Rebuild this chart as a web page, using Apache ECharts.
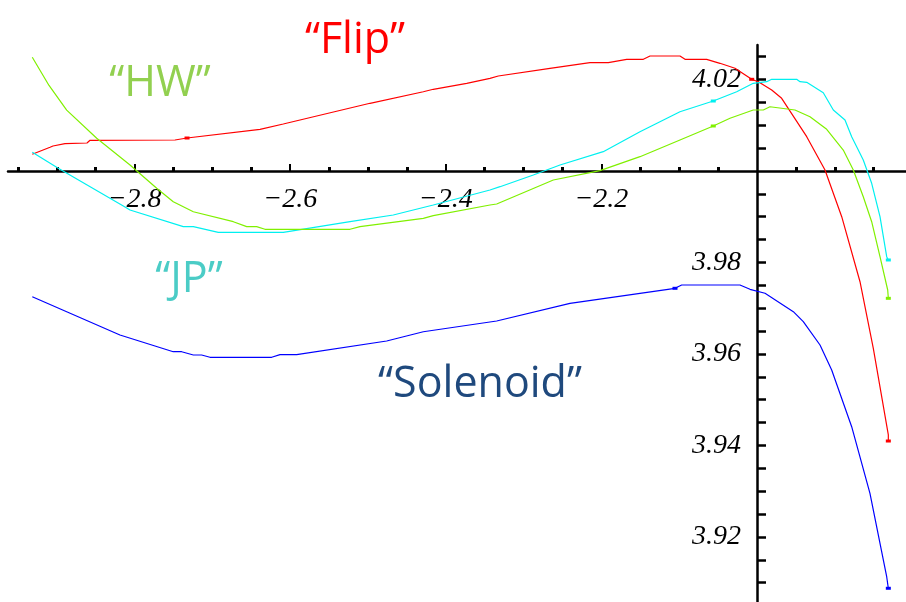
<!DOCTYPE html>
<html>
<head>
<meta charset="utf-8">
<script src="https://cdn.jsdelivr.net/npm/echarts@6/dist/echarts.min.js"></script>
<style>
html,body{margin:0;padding:0;background:#fff;}
#chart{width:906px;height:602px;}
</style>
</head>
<body>
<div id="chart"></div>
<script>
// ---- data ----
var flip = [
  [-2.9315, 4.00365], [-2.9087, 4.00518], [-2.9049, 4.00546], [-2.8895, 4.00597],
  [-2.8612, 4.00612], [-2.8573, 4.00671], [-2.7481, 4.00678], [-2.7326, 4.00721],
  [-2.6388, 4.00911], [-2.6089, 4.01027], [-2.5874, 4.01115], [-2.4974, 4.01480],
  [-2.4289, 4.01733], [-2.4161, 4.01786], [-2.3731, 4.01917], [-2.3432, 4.02026],
  [-2.3325, 4.02077], [-2.2661, 4.02245], [-2.2147, 4.02367], [-2.1911, 4.02367],
  [-2.1675, 4.02441], [-2.1461, 4.02441], [-2.1375, 4.02514], [-2.0990, 4.02514],
  [-2.0925, 4.02441], [-2.0647, 4.02441], [-2.0476, 4.02354], [-2.0283, 4.02245],
  [-2.0068, 4.02004], [-1.9983, 4.01952], [-1.9811, 4.01770], [-1.9683, 4.01589],
  [-1.9361, 4.00750], [-1.9126, 4.00022], [-1.8911, 3.99001], [-1.8676, 3.97580],
  [-1.8505, 3.96125], [-1.8312, 3.94230], [-1.8312, 3.94098]
];
var flipMarks = [7, 28, 38];

var jp = [
  [-2.9315, 4.00409], [-2.8981, 4.00059], [-2.8145, 3.99235], [-2.8059, 3.99148],
  [-2.7374, 3.98783], [-2.7245, 3.98783], [-2.6924, 3.98660], [-2.6089, 3.98660],
  [-2.5231, 3.98892], [-2.4675, 3.99038], [-2.4161, 3.99257], [-2.3432, 3.99585],
  [-2.3303, 3.99657], [-2.2875, 3.99913], [-2.2532, 4.00131], [-2.1976, 4.00422],
  [-2.1504, 4.00859], [-2.0990, 4.01296], [-2.0562, 4.01530], [-2.0261, 4.01733],
  [-2.0048, 4.01917], [-1.9875, 4.01952], [-1.9811, 4.02004], [-1.9490, 4.02004],
  [-1.9447, 4.01952], [-1.9361, 4.01939], [-1.9148, 4.01711], [-1.9019, 4.01333],
  [-1.8869, 4.01115], [-1.8783, 4.00750], [-1.8634, 4.00240], [-1.8526, 3.99731],
  [-1.8419, 3.99001], [-1.8333, 3.98127], [-1.8312, 3.98055]
];
var jpMarks = [18, 34];

var hw = [
  [-2.9315, 4.02485], [-2.9100, 4.01870], [-2.8873, 4.01330], [-2.8487, 4.00715],
  [-2.8059, 4.00131], [-2.7716, 3.99622], [-2.7503, 3.99329], [-2.7245, 3.99110],
  [-2.6731, 3.98892], [-2.6559, 3.98783], [-2.6431, 3.98783], [-2.6324, 3.98726],
  [-2.5231, 3.98726], [-2.5103, 3.98783], [-2.4289, 3.98966], [-2.4161, 3.99023],
  [-2.3432, 3.99257], [-2.3346, 3.99279], [-2.2618, 3.99803], [-2.2018, 4.00007],
  [-2.1504, 4.00313], [-2.0990, 4.00678], [-2.0562, 4.00984], [-2.0347, 4.01152],
  [-2.0048, 4.01333], [-1.9919, 4.01333], [-1.9833, 4.01405], [-1.9512, 4.01333],
  [-1.9319, 4.01187], [-1.9104, 4.00911], [-1.8891, 4.00459], [-1.8762, 4.00022],
  [-1.8634, 3.99438], [-1.8526, 3.98892], [-1.8419, 3.98127], [-1.8320, 3.97399],
  [-1.8312, 3.97217]
];
var hwMarks = [22, 36];

var solenoid = [
  [-2.9315, 3.97252], [-2.8188, 3.96415], [-2.7503, 3.96050], [-2.7395, 3.96050],
  [-2.7245, 3.95978], [-2.7138, 3.95978], [-2.7031, 3.95928], [-2.6238, 3.95928],
  [-2.6131, 3.95985], [-2.5917, 3.95985], [-2.4760, 3.96284], [-2.4289, 3.96487],
  [-2.3346, 3.96721], [-2.2404, 3.97108], [-2.1054, 3.97436], [-2.0968, 3.97508],
  [-2.0219, 3.97508], [-2.0090, 3.97414], [-1.9897, 3.97327], [-1.9533, 3.96925],
  [-1.9405, 3.96706], [-1.9190, 3.96197], [-1.9040, 3.95650], [-1.8783, 3.94411],
  [-1.8548, 3.92955], [-1.8333, 3.91132], [-1.8312, 3.90879]
];
var solenoidMarks = [14, 26];

var xLabels = [-2.8, -2.6, -2.4, -2.2];
var xMajorTicks = [-2.8, -2.6, -2.4, -2.2];
var xMinorTicks = [-2.95, -2.9, -2.85, -2.75, -2.7, -2.65, -2.55, -2.5, -2.45,
                   -2.35, -2.3, -2.25, -2.15, -2.1, -2.05, -1.95, -1.9, -1.85];
var yLabels = [4.02, 3.98, 3.96, 3.94, 3.92];
var yTicks = [4.025, 4.02, 4.015, 4.01, 4.005, 3.995, 3.99, 3.985, 3.98, 3.975,
              3.97, 3.965, 3.96, 3.955, 3.95, 3.945, 3.94, 3.935, 3.93, 3.925,
              3.92, 3.915, 3.91];

var seriesNames = ['Flip', 'JP', 'HW', 'Solenoid'];
var lineColors = ['#ff0000', '#00f0f0', '#80f000', '#0000ff'];
var seriesData = [flip, jp, hw, solenoid];
var seriesMarks = [flipMarks, jpMarks, hwMarks, solenoidMarks];

// ---- layout ----
var X_MIN = -2.96272, X_MAX = -1.80848;
var Y_MIN = 3.905792, Y_MAX = 4.027541;

function toItems(arr, marks) {
  return arr.map(function (p, i) {
    if (marks.indexOf(i) >= 0) {
      return { value: p, symbol: 'rect', symbolSize: [5, 3] };
    }
    return { value: p };
  });
}
function fmtX(v) { return (v < 0 ? '\u2212' : '') + Math.abs(v).toFixed(1); }
function fmtY(v) { return v.toFixed(2); }

var labelStyle = {
  fontFamily: 'Liberation Serif', fontStyle: 'italic', fontSize: 28, color: '#000'
};

var chart = echarts.init(document.getElementById('chart'), null, { renderer: 'canvas' });
chart.setOption({
  animation: false,
  backgroundColor: '#fff',
  grid: { left: 8, right: 0, top: 45, bottom: 0, containLabel: false },
  xAxis: [
    {
      type: 'value', min: X_MIN, max: X_MAX, position: 'bottom', offset: -431,
      axisLine: { show: true, lineStyle: { color: '#000', width: 2.5 } },
      axisTick: { show: true, inside: true, length: 7, customValues: xMajorTicks,
                  lineStyle: { color: '#000', width: 2 } },
      axisLabel: Object.assign({ customValues: xLabels, margin: 15, formatter: fmtX }, labelStyle),
      splitLine: { show: false }
    },
    {
      type: 'value', min: X_MIN, max: X_MAX, position: 'bottom', offset: -431,
      axisLine: { show: false },
      axisTick: { show: true, inside: true, length: 4, customValues: xMinorTicks,
                  lineStyle: { color: '#000', width: 3 } },
      axisLabel: { show: false },
      splitLine: { show: false }
    }
  ],
  yAxis: [
    {
      type: 'value', min: Y_MIN, max: Y_MAX, position: 'left', offset: -749,
      axisLine: { show: true, lineStyle: { color: '#000', width: 2.5 } },
      axisTick: { show: true, inside: true, length: 9, customValues: yTicks,
                  lineStyle: { color: '#000', width: 2.5 } },
      axisLabel: Object.assign({ customValues: yLabels, margin: 16, formatter: fmtY }, labelStyle),
      splitLine: { show: false }
    }
  ],
  series: seriesData.map(function (d, k) {
    return {
      name: seriesNames[k], type: 'line', xAxisIndex: 0, yAxisIndex: 0,
      data: toItems(d, seriesMarks[k]),
      symbol: 'none', showSymbol: true, showAllSymbol: true,
      lineStyle: { color: lineColors[k], width: 1.2 },
      itemStyle: { color: lineColors[k] },
      silent: true, z: 3
    };
  }),
  graphic: [
    { type: 'text', x: 355, y: 41, style: { text: '\u201CFlip\u201D', fill: '#ff0000',
      font: '43px "Open Sans"', textAlign: 'center', textVerticalAlign: 'middle' } },
    { type: 'text', x: 160, y: 84, style: { text: '\u201CHW\u201D', fill: '#92d050',
      font: '43px "Open Sans"', textAlign: 'center', textVerticalAlign: 'middle' } },
    { type: 'text', x: 189, y: 280, style: { text: '\u201CJP\u201D', fill: '#4bccc6',
      font: '43px "Open Sans"', textAlign: 'center', textVerticalAlign: 'middle' } },
    { type: 'text', x: 480, y: 385, style: { text: '\u201CSolenoid\u201D', fill: '#1f497d',
      font: '43px "Open Sans"', textAlign: 'center', textVerticalAlign: 'middle' } }
  ]
});
</script>
</body>
</html>
